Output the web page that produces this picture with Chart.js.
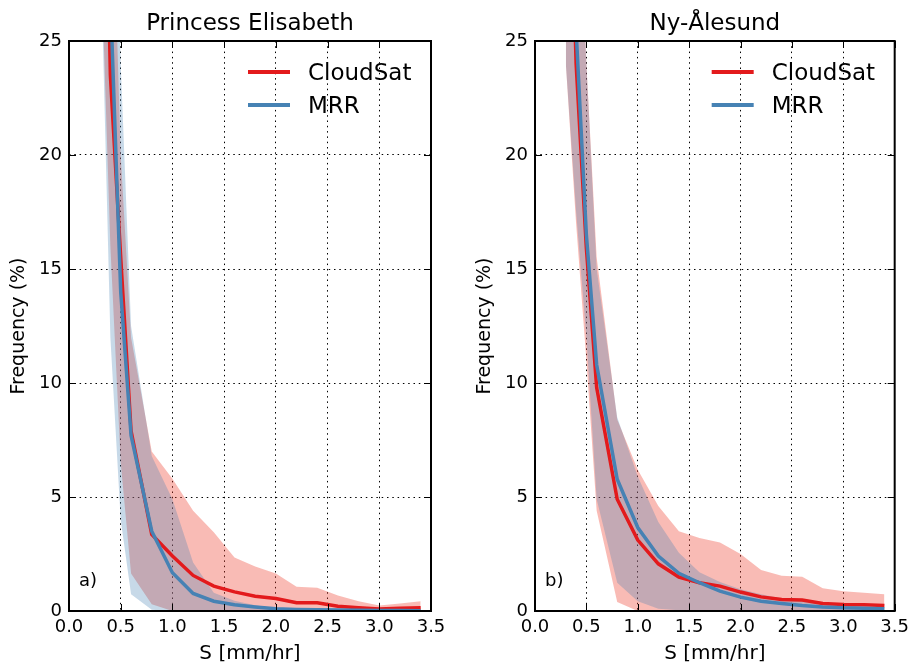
<!DOCTYPE html>
<html>
<head>
<meta charset="utf-8">
<script src="https://cdn.jsdelivr.net/npm/chart.js@4/dist/chart.umd.min.js"></script>
<style>
  html, body { margin: 0; padding: 0; background: #fff; }
  #wrap { position: relative; width: 915px; height: 667px; }
  canvas { position: absolute; top: 0; }
  #left { left: 0; }
  #right { left: 466px; }
</style>
</head>
<body>
<div id="wrap">
  <canvas id="left" width="466" height="667"></canvas>
  <canvas id="right" width="449" height="667"></canvas>
</div>
<script>
// snowfall rate bins (mm/hr)
const xs = [0.3, 0.4, 0.5, 0.6, 0.8, 1.0, 1.2, 1.4, 1.6, 1.8, 2.0, 2.2, 2.4, 2.6, 2.8, 3.0, 3.2, 3.4];
const xTicks = [0.0, 0.5, 1.0, 1.5, 2.0, 2.5, 3.0, 3.5];
const yTicks = [0, 5, 10, 15, 20, 25];
const seriesNames = ['CloudSat', 'MRR'];
const panelTitles = ['Princess Elisabeth', 'Ny-Ålesund'];
const panelLabels = ['a)', 'b)'];

// Princess Elisabeth
const peCloudSat = [45, 23.5, 15.5, 7.9, 3.36, 2.41, 1.56, 1.09, 0.84, 0.65, 0.55, 0.36, 0.36, 0.21, 0.14, 0.09, 0.12, 0.14];
const peCloudSatHigh = [60, 35, 20, 12, 7.0, 5.8, 4.4, 3.45, 2.35, 1.95, 1.65, 1.06, 1.02, 0.68, 0.43, 0.24, 0.33, 0.43];
const peCloudSatLow = [30, 16, 6.5, 1.65, 0.3, 0, 0, 0, 0, 0, 0, 0, 0, 0, 0, 0, 0, 0];
const peMrr = [50, 27, 14, 7.7, 3.5, 1.68, 0.77, 0.43, 0.27, 0.18, 0.1, 0.07, 0.05, 0.04, 0.03, 0.02, 0.02, 0.01];
const peMrrHigh = [60, 40, 24, 12.5, 6.8, 4.9, 2.13, 0.8, 0.45, 0.25, 0.12, 0.08, 0.06, 0.04, 0.03, 0.03, 0.02, 0.02];
const peMrrLow = [30, 12, 4, 0.73, 0.05, 0, 0, 0, 0, 0, 0, 0, 0, 0, 0, 0, 0, 0];

// Ny-Alesund
const nyCloudSat = [40, 24, 15.9, 9.8, 4.9, 3.11, 2.07, 1.49, 1.24, 1.09, 0.83, 0.62, 0.5, 0.48, 0.33, 0.29, 0.27, 0.24];
const nyCloudSatHigh = [55, 35, 24, 15.5, 8.4, 6.2, 4.6, 3.5, 3.2, 3.0, 2.5, 1.8, 1.55, 1.5, 1.0, 0.87, 0.8, 0.73];
const nyCloudSatLow = [24, 17, 11, 4.4, 0.4, 0, 0, 0, 0, 0, 0, 0, 0, 0, 0, 0, 0, 0];
const nyMrr = [42, 25.5, 16.5, 10.8, 5.78, 3.66, 2.41, 1.65, 1.24, 0.87, 0.61, 0.43, 0.33, 0.24, 0.18, 0.14, 0.12, 0.1];
const nyMrrHigh = [55, 35, 24, 15, 8.5, 5.9, 3.9, 2.55, 1.7, 1.27, 0.95, 0.73, 0.55, 0.45, 0.34, 0.25, 0.2, 0.15];
const nyMrrLow = [24, 17.5, 12, 4.9, 1.24, 0.43, 0.1, 0.03, 0, 0, 0, 0, 0, 0, 0, 0, 0, 0];

const red = '#e31a1c';
const blue = '#4682b4';
const redBand = 'rgba(239, 59, 44, 0.35)';
const blueBand = 'rgba(70, 130, 180, 0.3)';

Chart.defaults.font.family = "'DejaVu Sans', sans-serif";
Chart.defaults.color = '#000';

function pts(arr) {
  return arr.map((v, i) => ({ x: xs[i], y: v }));
}

// frame, inward ticks, legend and panel letter
const decor = {
  id: 'decor',
  afterDraw(chart, args, opts) {
    const ctx = chart.ctx;
    const a = chart.chartArea;
    const sx = chart.scales.x, sy = chart.scales.y;
    ctx.save();
    ctx.strokeStyle = '#000';
    ctx.lineWidth = 1;
    ctx.beginPath();
    xTicks.forEach(v => {
      const p = Math.round(sx.getPixelForValue(v)) + 0.5;
      ctx.moveTo(p, a.bottom); ctx.lineTo(p, a.bottom - 7);
      ctx.moveTo(p, a.top); ctx.lineTo(p, a.top + 7);
    });
    yTicks.forEach(v => {
      const p = Math.round(sy.getPixelForValue(v)) + 0.5;
      ctx.moveTo(a.left, p); ctx.lineTo(a.left + 7, p);
      ctx.moveTo(a.right, p); ctx.lineTo(a.right - 7, p);
    });
    ctx.stroke();
    ctx.lineWidth = 2;
    ctx.strokeRect(a.left, a.top, a.right - a.left, a.bottom - a.top);

    // legend
    const lines = chart.data.datasets.filter(d => d.isLine);
    ctx.font = "23px 'DejaVu Sans'";
    ctx.textBaseline = 'middle';
    ctx.fillStyle = '#000';
    lines.forEach((d, i) => {
      const y = a.top + 31 + i * 33;
      const x0 = a.right - 183;
      ctx.strokeStyle = d.borderColor;
      ctx.lineWidth = 4;
      ctx.beginPath();
      ctx.moveTo(x0, y); ctx.lineTo(x0 + 42, y);
      ctx.stroke();
      ctx.fillText(d.label, x0 + 60, y + 2);
    });

    ctx.font = "18px 'DejaVu Sans'";
    ctx.fillText(opts.letter, a.left + 10, a.bottom - 30);
    ctx.restore();
  }
};

function makeChart(id, title, letter, cs, csHigh, csLow, mrr, mrrHigh, mrrLow, padRight) {
  return new Chart(document.getElementById(id), {
    type: 'line',
    data: {
      datasets: [
        { label: 'csHigh', data: pts(csHigh), fill: '+1', backgroundColor: redBand, borderWidth: 0, pointRadius: 0, order: 3 },
        { label: 'csLow', data: pts(csLow), fill: false, borderWidth: 0, pointRadius: 0, order: 3 },
        { label: 'mrrHigh', data: pts(mrrHigh), fill: '+1', backgroundColor: blueBand, borderWidth: 0, pointRadius: 0, order: 2 },
        { label: 'mrrLow', data: pts(mrrLow), fill: false, borderWidth: 0, pointRadius: 0, order: 2 },
        { label: seriesNames[0], isLine: true, data: pts(cs), borderColor: red, borderWidth: 3.5, pointRadius: 0, fill: false, order: 1 },
        { label: seriesNames[1], isLine: true, data: pts(mrr), borderColor: blue, borderWidth: 3.5, pointRadius: 0, fill: false, order: 0 }
      ]
    },
    options: {
      responsive: false,
      animation: false,
      devicePixelRatio: 1,
      layout: { padding: { left: 0, right: padRight, top: 0, bottom: 0 } },
      plugins: {
        legend: { display: false },
        tooltip: { enabled: false },
        title: {
          display: true,
          text: title,
          fullSize: false,
          color: '#000',
          font: { size: 23, weight: 'normal' },
          padding: { top: 10, bottom: 3.4 }
        },
        decor: { letter: letter }
      },
      scales: {
        x: {
          type: 'linear',
          min: 0, max: 3.5,
          z: 1,
          afterFit: s => { s.height = 56; },
          afterBuildTicks: s => { s.ticks = xTicks.map(v => ({ value: v })); },
          ticks: { autoSkip: false, maxRotation: 0, padding: 6, font: { size: 18 }, callback: v => v.toFixed(1) },
          grid: { color: '#000', lineWidth: 1, drawTicks: false },
          border: { display: false, dash: [1.5, 3.8] },
          title: { display: true, text: 'S [mm/hr]', font: { size: 20 }, padding: { top: 0, bottom: 1 } }
        },
        y: {
          min: 0, max: 25,
          z: 1,
          afterFit: s => { s.width = 69; },
          afterBuildTicks: s => { s.ticks = yTicks.map(v => ({ value: v })); },
          ticks: { padding: 7, font: { size: 18 } },
          grid: { color: '#000', lineWidth: 1, drawTicks: false },
          border: { display: false, dash: [1.5, 3.8] },
          title: { display: true, text: 'Frequency (%)', font: { size: 19 }, padding: { top: 8, bottom: 0 } }
        }
      }
    },
    plugins: [decor]
  });
}

makeChart('left', panelTitles[0], panelLabels[0], peCloudSat, peCloudSatHigh, peCloudSatLow, peMrr, peMrrHigh, peMrrLow, 35);
makeChart('right', panelTitles[1], panelLabels[1], nyCloudSat, nyCloudSatHigh, nyCloudSatLow, nyMrr, nyMrrHigh, nyMrrLow, 19);
</script>
</body>
</html>
